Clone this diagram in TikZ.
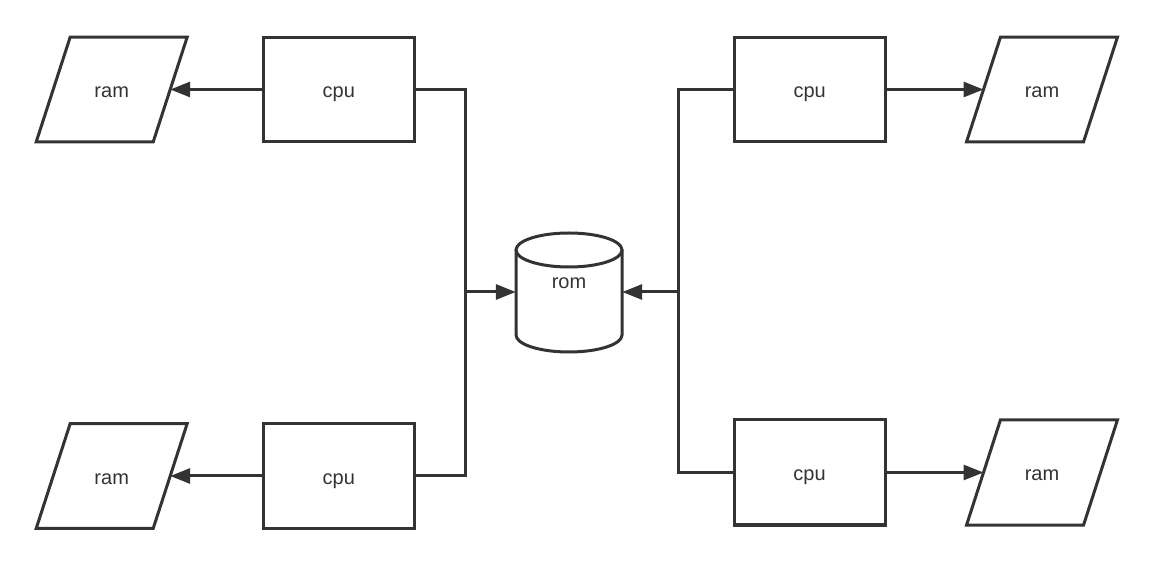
\documentclass[tikz,border=0pt]{standalone}
\usepackage{fontspec}
\setmainfont{Liberation Sans}
\usetikzlibrary{arrows.meta}
\definecolor{ink}{HTML}{333333}
\tikzset{
  lbl/.style={font=\fontsize{20}{24}\selectfont,text=ink,text height=16.4pt,text depth=0pt,inner sep=0pt},
  cpubox/.style={lbl,draw=ink,line width=3pt,fill=white,minimum width=151pt,minimum height=104.5pt},
  rambox/.style={lbl,minimum width=116.6pt,minimum height=104.5pt},
  ramedge/.style={draw=ink,line width=3pt,fill=white,line join=miter},
  link/.style={draw=ink,line width=3pt},
  arr/.style={link,-{Triangle[length=20pt,width=15pt]}},
}
\newcommand\drawram[1]{\path[ramedge] ([xshift=-17pt]#1.south west) -- ([xshift=-17pt]#1.south east) -- ([xshift=17pt]#1.north east) -- ([xshift=17pt]#1.north west) -- cycle;}
\begin{document}
\begin{tikzpicture}[x=1pt,y=1pt]
\useasboundingbox (0,0) rectangle (1155,567);
% cylinder
\fill[white] (516,317) -- (516,232) arc[start angle=180,end angle=360,x radius=53,y radius=17] -- (622,317) arc[start angle=0,end angle=180,x radius=53,y radius=17] -- cycle;
\draw[link] (516,317) -- (516,232) arc[start angle=180,end angle=360,x radius=53,y radius=17] -- (622,317);
\draw[link] (569,317) ellipse[x radius=53,y radius=17];
\node[minimum width=106pt,minimum height=119pt,inner sep=0pt] (rom) at (569,275) {};
\node[font=\fontsize{20}{24}\selectfont,text=ink,text height=10.4pt,text depth=0pt,inner sep=0pt] (romtxt) at (569,284) {rom};
% nodes
\node[cpubox] (c1) at (338.8,477.5) {cpu};
\node[rambox] (r1) at (111.7,477.5) {};
\node[cpubox] (c3) at (338.8,91) {cpu};
\node[rambox] (r3) at (111.7,91) {};
\node[cpubox] (c2) at (809.7,477.5) {cpu};
\node[rambox] (r2) at (1042,477.5) {};
\node[cpubox,minimum height=105pt] (c4) at (809.5,94.5) {cpu};
\node[rambox,minimum height=105pt] (r4) at (1042,94.5) {};
\drawram{r1}\drawram{r2}\drawram{r3}\drawram{r4}
\node[lbl] (t1) at (r1) {ram};
\node[lbl] (t2) at (r2) {ram};
\node[lbl] (t3) at (r3) {ram};
\node[lbl] (t4) at (r4) {ram};
\coordinate (jl) at (465,275);
\coordinate (jr) at (678,275);
% connectors
\draw[arr] (c1.west) -- (r1.east);
\draw[arr] (c3.west) -- (r3.east);
\draw[arr] (c2.east) -- (r2.west);
\draw[arr] (c4.east) -- (r4.west);
\draw[link] (c1.east) -| (jl) |- (c3.east);
\draw[link] (c2.west) -| (jr) |- (c4.west);
\draw[arr] (jl) -- (rom.west);
\draw[arr] (jr) -- (rom.east);
\end{tikzpicture}
\end{document}
